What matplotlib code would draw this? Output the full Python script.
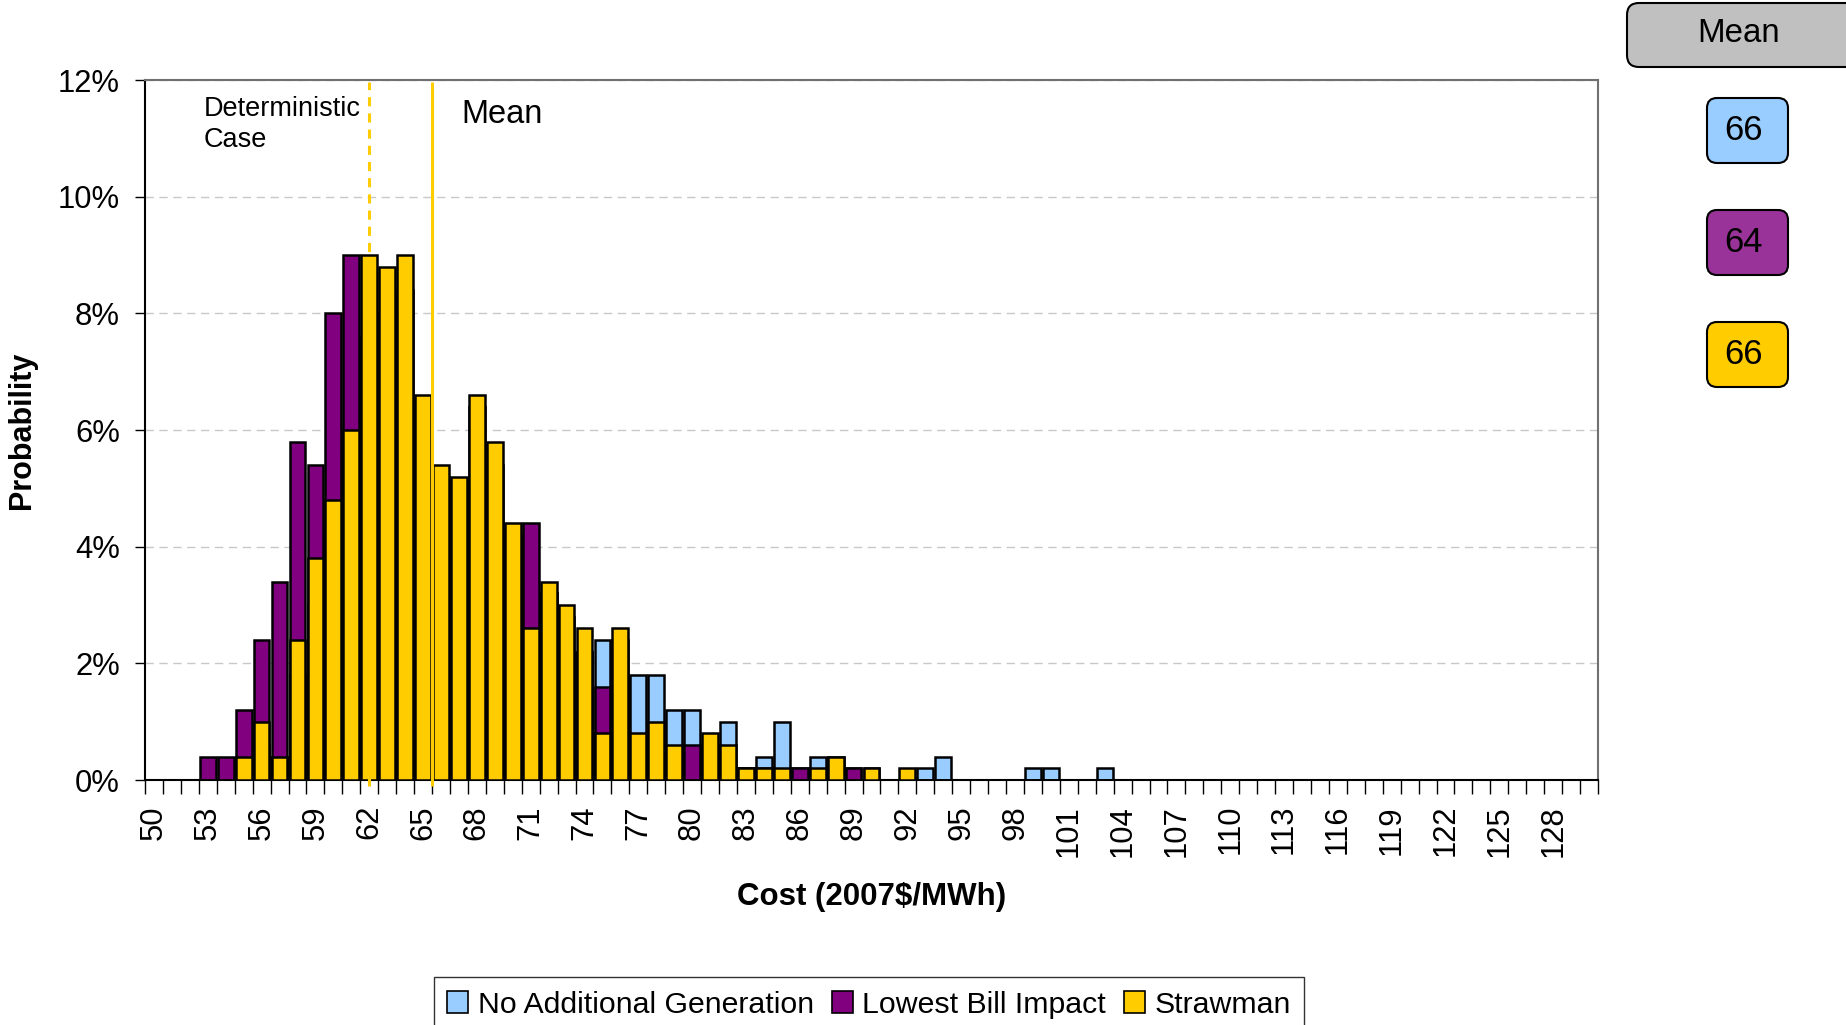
import numpy as np
import matplotlib.pyplot as plt
from matplotlib.patches import Patch, FancyBboxPatch

plt.rcParams['font.family'] = ['Liberation Sans', 'DejaVu Sans']

# cost bins ($/MWh), one bar per bin
cost = np.arange(50, 131)

# probability (%) per bin
no_additional = [
    0, 0, 0, 0, 0, 0.2, 0.6, 0.4, 1.8, 3.0,
    4.2, 5.6, 7.6, 8.0, 8.4, 6.4, 5.2, 5.0, 6.4, 5.4,
    4.2, 2.4, 3.2, 2.8, 2.2, 2.4, 2.4, 1.8, 1.8, 1.2,
    1.2, 0.6, 1.0, 0.2, 0.4, 1.0, 0.2, 0.4, 0.4, 0.2,
    0.2, 0, 0, 0.2, 0.4, 0, 0, 0, 0, 0.2,
    0.2, 0, 0, 0.2, 0, 0, 0, 0, 0, 0,
    0, 0, 0, 0, 0, 0, 0, 0, 0, 0,
    0, 0, 0, 0, 0, 0, 0, 0, 0, 0,
    0,
]
lowest_bill = [
    0, 0, 0, 0.4, 0.4, 1.2, 2.4, 3.4, 5.8, 5.4,
    8.0, 9.0, 7.2, 6.8, 6.0, 5.6, 4.8, 4.6, 4.0, 3.6,
    3.4, 4.4, 3.2, 2.2, 2.2, 1.6, 1.0, 0.6, 0.4, 0.4,
    0.6, 0.4, 0.2, 0.2, 0.2, 0, 0.2, 0, 0, 0.2,
    0, 0, 0, 0, 0, 0, 0, 0, 0, 0,
    0, 0, 0, 0, 0, 0, 0, 0, 0, 0,
    0, 0, 0, 0, 0, 0, 0, 0, 0, 0,
    0, 0, 0, 0, 0, 0, 0, 0, 0, 0,
    0,
]
strawman = [
    0, 0, 0, 0, 0, 0.4, 1.0, 0.4, 2.4, 3.8,
    4.8, 6.0, 9.0, 8.8, 9.0, 6.6, 5.4, 5.2, 6.6, 5.8,
    4.4, 2.6, 3.4, 3.0, 2.6, 0.8, 2.6, 0.8, 1.0, 0.6,
    0, 0.8, 0.6, 0.2, 0.2, 0.2, 0, 0.2, 0.4, 0,
    0.2, 0, 0.2, 0, 0, 0, 0, 0, 0, 0,
    0, 0, 0, 0, 0, 0, 0, 0, 0, 0,
    0, 0, 0, 0, 0, 0, 0, 0, 0, 0,
    0, 0, 0, 0, 0, 0, 0, 0, 0, 0,
    0,
]

series_names = ['No Additional Generation', 'Lowest Bill Impact', 'Strawman']
series_colors = ['#99CCFF', '#800080', '#FFCC00']
box_colors = ['#99CCFF', '#993399', '#FFCC00']
mean_values = [66, 64, 66]

deterministic_x = 62
mean_x = 65.5

fig = plt.figure(figsize=(18.46, 10.25), dpi=100)
ax = fig.add_axes([145 / 1846, 245 / 1025, 1453 / 1846, 700 / 1025])

for vals, col in zip([no_additional, lowest_bill, strawman], series_colors):
    ax.bar(cost, vals, width=0.88, color=col, edgecolor='black', linewidth=1.8, zorder=3)

# reference lines
ax.vlines(deterministic_x, -0.1, 11.97, colors='#FFCC00', linewidth=2.2,
          linestyles=(0, (3, 2.3)), zorder=4, clip_on=False)
ax.vlines(mean_x, -0.1, 11.97, colors='#FFCC00', linewidth=2.2, zorder=4, clip_on=False)

ax.set_xlim(cost[0] - 0.5, cost[-1] + 0.5)
ax.set_ylim(0, 12)

# y axis
ax.set_yticks(np.arange(0, 13, 2))
ax.set_yticklabels([f'{v}%' for v in range(0, 13, 2)])
ax.tick_params(axis='y', length=7, width=1, pad=11, labelsize=22.3, direction='out')
ax.yaxis.grid(True, color='#C8C8C8', linestyle=(0, (6, 4)), linewidth=1, zorder=0)

# x axis: ticks between bins, labels every 3 bins
ax.set_xticks(np.arange(cost[0] - 0.5, cost[-1] + 1.0, 1.0))
ax.set_xticklabels([])
ax.tick_params(axis='x', which='major', length=10, width=1, direction='out')
lab = cost[::3]
ax.set_xticks(lab, [str(v) for v in lab], minor=True)
ax.tick_params(axis='x', which='minor', length=0, pad=18, labelsize=22.3, labelrotation=90)

for s in ['left', 'bottom']:
    ax.spines[s].set_color('black')
    ax.spines[s].set_linewidth(1.5)
for s in ['top', 'right']:
    ax.spines[s].set_color('#707070')
    ax.spines[s].set_linewidth(1.5)

ax.set_xlabel('Cost (2007$/MWh)', fontsize=22.5, fontweight='bold')
ax.xaxis.set_label_coords(0.5, -0.145)
ax.set_ylabel('Probability', fontsize=22, fontweight='bold')
ax.yaxis.set_label_coords(-0.074, 0.5)

ax.text(deterministic_x - 9.25, 11.72, 'Deterministic\nCase', fontsize=19.5,
        va='top', ha='left', linespacing=1.25, zorder=5)
ax.text(mean_x + 1.62, 11.68, 'Mean', fontsize=23.5, va='top', ha='left', zorder=5)

handles = [Patch(facecolor=c, edgecolor='black', linewidth=1.2) for c in series_colors]
fig.legend(handles, series_names, loc='upper center', bbox_to_anchor=(869 / 1846, 1 - 977 / 1025),
           ncol=3, fontsize=21.8, frameon=True, fancybox=False, edgecolor='black',
           handlelength=0.7, handleheight=0.7, handletextpad=0.3, columnspacing=0.6,
           borderpad=0.45, borderaxespad=0)

# mean boxes on the right, drawn in pixel space
ov = fig.add_axes([0, 0, 1, 1], zorder=10)
ov.set_xlim(0, 1846)
ov.set_ylim(1025, 0)
ov.axis('off')
ov.add_patch(FancyBboxPatch((1627, 3), 260, 64, boxstyle='round,pad=0,rounding_size=12',
                            facecolor='#C0C0C0', edgecolor='black', linewidth=1.5))
ov.text(1739, 33, 'Mean', fontsize=23.8, ha='center', va='center')
for i, (val, col) in enumerate(zip(mean_values, box_colors)):
    top = 98 + i * 112
    ov.add_patch(FancyBboxPatch((1707, top), 81, 65, boxstyle='round,pad=0,rounding_size=10',
                                facecolor=col, edgecolor='black', linewidth=1.5))
    ov.text(1744, top + 32, str(val), fontsize=25, ha='center', va='center')

plt.savefig('out.png', dpi=100)
plt.close()
